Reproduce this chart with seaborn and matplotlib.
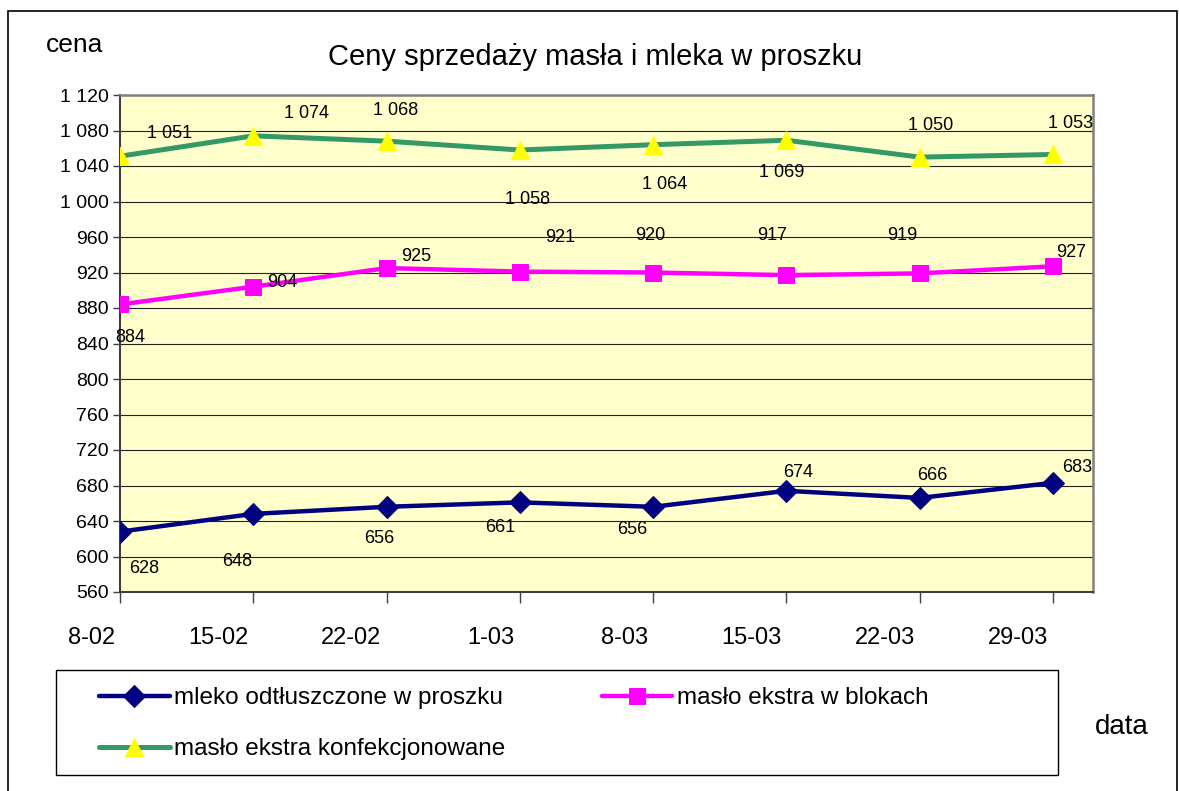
import matplotlib
matplotlib.use("Agg")
import matplotlib.pyplot as plt
import matplotlib.transforms as mtransforms
import seaborn as sns
import numpy as np
from matplotlib.patches import Rectangle

# ---- data ----
dates = ["8-02", "15-02", "22-02", "1-03", "8-03", "15-03", "22-03", "29-03"]
mleko = [628, 648, 656, 661, 656, 674, 666, 683]
maslo_bloki = [884, 904, 925, 921, 920, 917, 919, 927]
maslo_konf = [1051, 1074, 1068, 1058, 1064, 1069, 1050, 1053]
series_names = ["mleko odtłuszczone w proszku", "masło ekstra w blokach",
                "masło ekstra konfekcjonowane"]
y_ticks = list(range(560, 1121, 40))

# label offsets (pixels) mimicking the original label placement
off_mleko = [(24, -37), (-16, -48), (-7, -32), (-20, -25), (-21, -23), (12, 18), (13, 22), (24, 15)]
off_bloki = [(10, -33), (29, 4), (30, 12), (40, 34), (-3, 37), (-14, 40), (-17, 38), (18, 14)]
off_konf = [(50, 23), (53, 22), (9, 31), (8, -49), (11, -40), (-5, -32), (11, 32), (18, 31)]

sns.set_style("white")
plt.rcParams["font.family"] = ["Liberation Sans", "DejaVu Sans"]
plt.rcParams["text.color"] = "black"
plt.rcParams["xtick.color"] = "black"
plt.rcParams["ytick.color"] = "black"
plt.rcParams["xtick.bottom"] = True
plt.rcParams["ytick.left"] = True

fig = plt.figure(figsize=(11.79, 7.91), dpi=100)
W, H = 1179, 791
ax = fig.add_axes([120 / W, 1 - 592 / H, (1093 - 120) / W, (592 - 95) / H])
ax.set_facecolor("#FFFFCC")

x = np.arange(len(dates))
styles = [
    (mleko, series_names[0], "#000080", "D", "#000080", 11, 3.2, off_mleko),
    (maslo_bloki, series_names[1], "#FF00FF", "s", "#FF00FF", 11, 3.2, off_bloki),
    (maslo_konf, series_names[2], "#339966", "^", "#FFFF00", 13, 3.6, off_konf),
]
for vals, name, lc, mk, mc, ms, lw, offs in styles:
    sns.lineplot(x=x, y=vals, ax=ax, color=lc, linewidth=lw, marker=mk,
                 markersize=ms, markerfacecolor=mc, markeredgecolor=mc,
                 label=name, zorder=3)
    for xi, v, (dx, dy) in zip(x, vals, offs):
        ax.annotate(f"{v:,}".replace(",", " "), (xi, v), xytext=(dx, dy),
                    textcoords="offset pixels", ha="center", va="center",
                    fontsize=13, color="black", zorder=4)

handles, labels = ax.get_legend_handles_labels()
if ax.get_legend() is not None:
    ax.get_legend().remove()

ax.set_xlim(0, 7.30)
ax.set_ylim(560, 1120)
ax.set_yticks(y_ticks)
ax.set_yticklabels([f"{v:,}".replace(",", " ") for v in y_ticks], fontsize=14)
ax.set_xticks(x)
ax.set_xticklabels(dates, fontsize=17)
ax.tick_params(axis="y", direction="out", length=5, width=1, color="#404040", pad=3,
               labelcolor="black")
ax.tick_params(axis="x", direction="out", length=8, width=1, color="#404040", pad=17,
               labelcolor="black")
shift = mtransforms.ScaledTranslation(-5 / 100, 0, fig.dpi_scale_trans)
for lab in ax.get_xticklabels():
    lab.set_horizontalalignment("right")
    lab.set_transform(lab.get_transform() + shift)
ax.grid(axis="y", color="#222222", linewidth=0.8)
ax.grid(axis="x", visible=False)
ax.set_axisbelow(True)
for s in ["top", "right"]:
    ax.spines[s].set_color("#808080")
    ax.spines[s].set_linewidth(1.8)
for s in ["left", "bottom"]:
    ax.spines[s].set_color("#404040")
    ax.spines[s].set_linewidth(1.5)
ax.set_xlabel("")
ax.set_ylabel("")

# titles / axis names
fig.text(595 / W, 1 - 57 / H, "Ceny sprzedaży masła i mleka w proszku",
         ha="center", va="center", fontsize=21, color="black")
fig.text(75 / W, 1 - 45 / H, "cena", ha="center", va="center", fontsize=19, color="black")
fig.text(1122 / W, 1 - 727 / H, "data", ha="center", va="center", fontsize=20, color="black")

# legend
order = [0, 2, 1]
leg = fig.legend([handles[i] for i in order], [labels[i] for i in order],
                 loc="upper left", bbox_to_anchor=(87 / W, 1 - 675 / H),
                 ncol=2, frameon=False, fontsize=17.5, handlelength=2.9,
                 handletextpad=0.2, columnspacing=3.95, labelspacing=1.2,
                 borderpad=0.0)
for t in leg.get_texts():
    t.set_color("black")
fig.patches.append(Rectangle((56 / W, 1 - 775 / H), (1058 - 56) / W, (775 - 670) / H,
                             transform=fig.transFigure, fill=False,
                             edgecolor="black", linewidth=1.0))
# outer border
fig.patches.append(Rectangle((8 / W, -0.02), (1177 - 8) / W, 1.02 - 11 / H,
                             transform=fig.transFigure, fill=False,
                             edgecolor="black", linewidth=1.2, clip_on=False))

fig.savefig("out.png", dpi=100)
